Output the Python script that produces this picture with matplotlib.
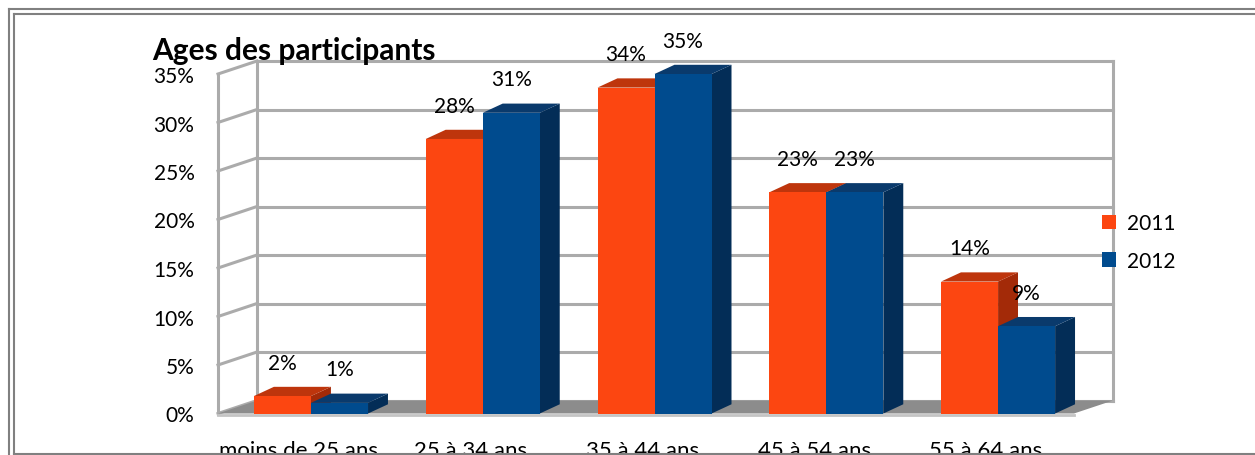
import numpy as np
import matplotlib.pyplot as plt
from matplotlib.patches import Polygon, Rectangle, Patch
from matplotlib.lines import Line2D

plt.rcParams['font.family'] = ['Lato', 'DejaVu Sans']

# Data (percent)
categories = ['moins de 25 ans', '25 à 34 ans', '35 à 44 ans', '45 à 54 ans', '55 à 64 ans']
series_names = ['2011', '2012']
values_2011 = [1.8, 28.3, 33.6, 22.8, 13.6]
values_2012 = [1.1, 31.0, 35.0, 22.8, 9.0]
yticks = [0, 5, 10, 15, 20, 25, 30, 35]

# colours: front, top, side
orange = ('#FC4611', '#BE350C', '#A32A08')
blue = ('#004B8E', '#0A3A6C', '#032D57')
grid_col = '#ABABAB'

W, H = 1255, 456
fig = plt.figure(figsize=(W / 100, H / 100), dpi=100)
ax = fig.add_axes([218 / W, (H - 414.5) / H, (1074 - 218) / W, (414.5 - 75) / H])
x0, x1 = -0.5415, 4.442
ax.set_xlim(x0, x1)
ax.set_ylim(0, 35)
for s in ax.spines.values():
    s.set_visible(False)

# pseudo 3D offsets (data units)
DX, DY = 0.227, 1.34      # wall depth
bw = 0.332                # bar width
bdx, bdy = 0.116, 0.95    # bar depth

# back wall grid + side wall
for y in yticks:
    ax.plot([x0 + DX, x1 + DX], [y + DY, y + DY], color=grid_col, lw=2.2, clip_on=False, zorder=1)
    ax.plot([x0, x0 + DX], [y, y + DY], color=grid_col, lw=2.2, clip_on=False, zorder=1)
ax.plot([x0, x0], [0, 35], color=grid_col, lw=2.2, clip_on=False, zorder=1)
ax.plot([x0 + DX, x0 + DX], [DY, 35 + DY], color=grid_col, lw=2.2, clip_on=False, zorder=1)
ax.plot([x1 + DX, x1 + DX], [DY, 35 + DY], color=grid_col, lw=2.2, clip_on=False, zorder=1)

# floor
ax.add_patch(Polygon([[x0, 0], [x1, 0], [x1 + DX, DY], [x0 + DX, DY]], closed=True,
                     facecolor='#8C8C8C', edgecolor='none', clip_on=False, zorder=2))
ax.plot([x0, x1], [-0.12, -0.12], color='#C4C4C4', lw=2.0, clip_on=False, zorder=2)


def bar3d(x, v, cols):
    front, top, side = cols
    ax.add_patch(Polygon([[x + bw, 0], [x + bw + bdx, bdy], [x + bw + bdx, v + bdy], [x + bw, v]],
                         closed=True, facecolor=side, edgecolor='none', clip_on=False, zorder=3))
    ax.add_patch(Polygon([[x, v], [x + bdx, v + bdy], [x + bw + bdx, v + bdy], [x + bw, v]],
                         closed=True, facecolor=top, edgecolor='none', clip_on=False, zorder=3))
    ax.add_patch(Rectangle((x, 0), bw, v, facecolor=front, edgecolor='none', zorder=3))
    ax.annotate('%.0f%%' % v, (x + bw / 2, v), xytext=(0, 24), textcoords='offset points',
                ha='center', va='center', fontsize=15, color='black', zorder=5)


pos = np.arange(len(categories))
for i in pos:
    bar3d(i - bw, values_2011[i], orange)
for i in pos:
    bar3d(i, values_2012[i], blue)

# axes labels
ax.set_yticks(yticks)
ax.set_yticklabels(['%d%%' % t for t in yticks], fontsize=15)
ax.set_xticks(pos - 0.07)
ax.set_xticklabels(categories, fontsize=16)
ax.tick_params(axis='y', length=0, pad=17)
ax.tick_params(axis='x', length=0, pad=19)

fig.text(152 / W, 1 - 60 / H, 'Ages des participants', fontsize=21.5, fontweight='bold',
         ha='left', va='baseline')

handles = [Patch(facecolor=orange[0], edgecolor='none'), Patch(facecolor=blue[0], edgecolor='none')]
fig.legend(handles, series_names, loc='upper left', bbox_to_anchor=(1102 / W, 1 - 214 / H),
           frameon=False, fontsize=15, handlelength=0.68, handleheight=0.68,
           handletextpad=0.5, labelspacing=0.85, borderpad=0, borderaxespad=0)

# outer double frame
fr = '#808080'
for ln in [([8.5, W], [9.5, 9.5]), ([8.5, 8.5], [9.5, H]), ([14, W], [15, 15]),
           ([14, 14], [15, 455]), ([14, W], [455, 455])]:
    fig.add_artist(Line2D([p / W for p in ln[0]], [1 - p / H for p in ln[1]],
                          color=fr, lw=1.5))

fig.savefig('out.png', dpi=100)
